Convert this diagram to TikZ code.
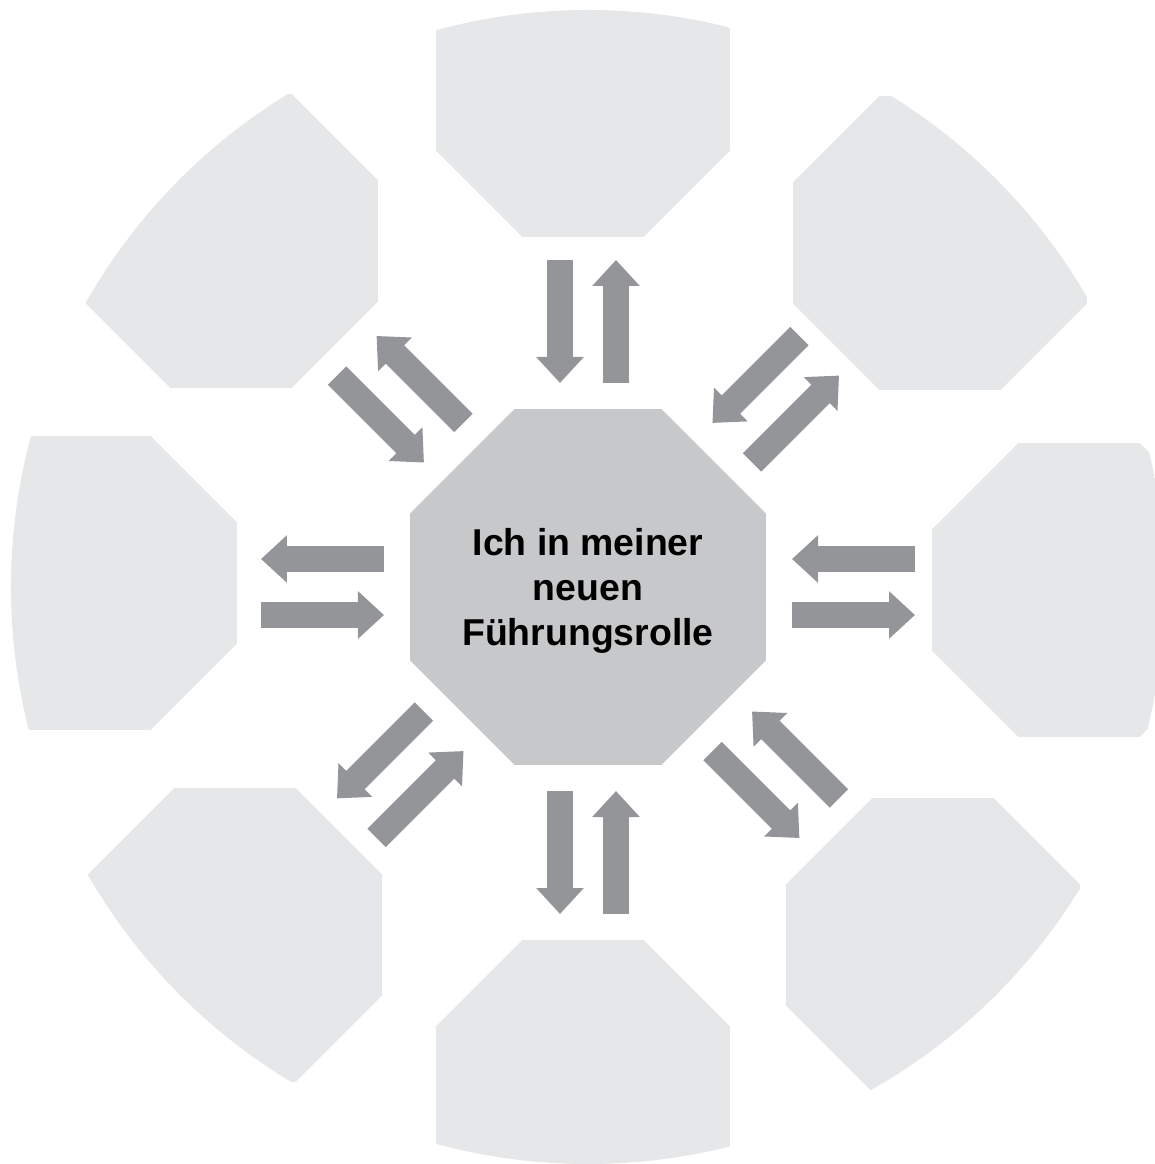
\documentclass[tikz,border=0pt]{standalone}
\usepackage{fontspec}
\setmainfont{Liberation Sans}
\usetikzlibrary{shapes.geometric}
\usetikzlibrary{arrows.meta}
\usetikzlibrary{calc}

\definecolor{boxgray}{HTML}{E6E7E8}
\definecolor{coregray}{HTML}{C7C8CA}
\definecolor{arrowgray}{HTML}{939598}

\begin{document}
\begin{tikzpicture}[x=1pt, y=1pt,
    outerbox/.style={regular polygon, regular polygon sides=8, minimum size=318pt, inner sep=0pt, outer sep=0pt, fill=boxgray},
    corebox/.style={regular polygon, regular polygon sides=8, minimum size=379pt, inner sep=0pt, outer sep=0pt, fill=coregray, align=center, text depth=0pt, font=\bfseries\fontsize{37.4}{45}\selectfont},
    flow/.style={line width=26pt, draw=arrowgray, -{Triangle[width=46pt, length=26pt]}}]

        % Page size
        \useasboundingbox (-588, -577) rectangle (567, 587);

        % Radius of the round outline
        \def\rim{577}

        % Where the arrows start and end
        \def\near{204}
        \def\far{327}

        % Half the gap between the two arrows of a pair
        \def\gap{28}

        % Outer boxes, cut off by the circle
        \begin{scope}
          \clip (0, 0) circle (\rim);
          \foreach \x/\y [count=\i] in {-5/497, 352/344, 491/-3, 345/-358, -5/-500, -353/-348, -498/4, -357/346} {
            \node[outerbox] (box\i) at (\x, \y) {};
          }
        \end{scope}

        % Middle box
        \node[corebox] (core) at (0, 0) {Ich in meiner\\neuen\\Führungsrolle};

        % Arrow pairs between middle and outer boxes
        \foreach \a [count=\i] in {90, 45, 0, -45, -90, -135, 180, 135} {
          % Arrow towards the middle
          \coordinate (in\i) at ($(\a:\far)+(\a+90:\gap)$);
          \coordinate (to\i) at ($(\a:\near)+(\a+90:\gap)$);
          \draw[flow] (in\i) -- (to\i);

          % Arrow towards the outer box
          \coordinate (out\i) at ($(\a:\near)+(\a-90:\gap)$);
          \coordinate (back\i) at ($(\a:\far)+(\a-90:\gap)$);
          \draw[flow] (out\i) -- (back\i);
        }

      \end{tikzpicture}
\end{document}
